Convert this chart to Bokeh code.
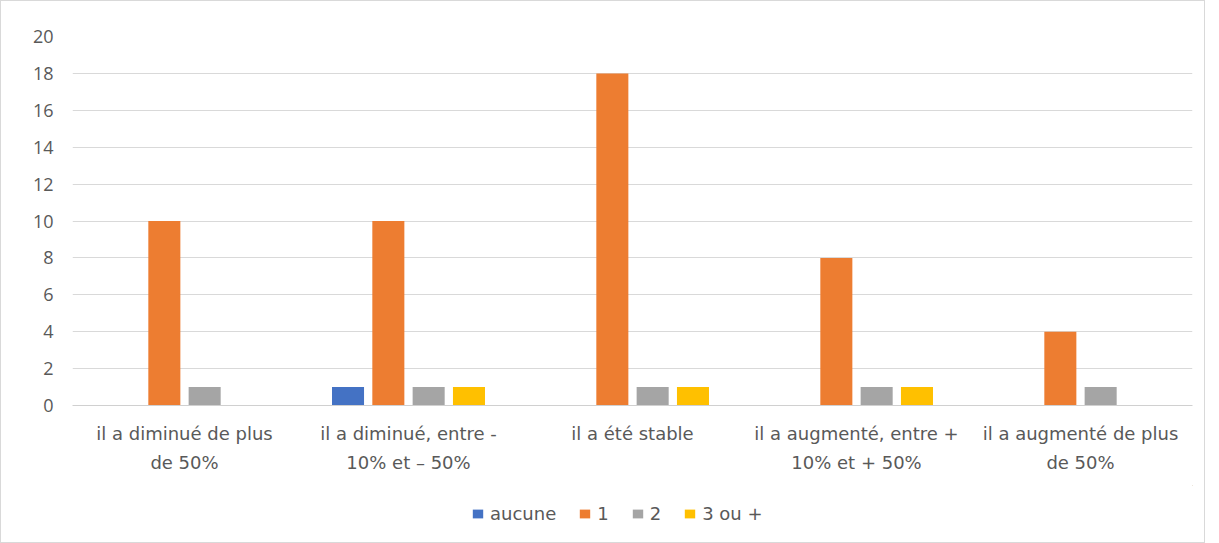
from bokeh.plotting import figure
from bokeh.models import Legend, LegendItem, Range1d, SingleIntervalTicker, ColumnDataSource
from bokeh.layouts import column
from bokeh.transform import dodge
from bokeh.embed import file_html
from bokeh.resources import INLINE

categories = [
    "il a diminué de plus\nde 50%",
    "il a diminué, entre -\n10% et – 50%",
    "il a été stable",
    "il a augmenté, entre +\n10% et + 50%",
    "il a augmenté de plus\nde 50%",
]
series_names = ["aucune", "1", "2", "3 ou +"]
aucune = [0, 1, 0, 0, 0]
un = [10, 10, 18, 8, 4]
deux = [1, 1, 1, 1, 1]
trois = [0, 1, 1, 1, 0]
colors = ["#4472C4", "#ED7D31", "#A5A5A5", "#FFC000"]

source = ColumnDataSource(data=dict(cat=categories, s0=aucune, s1=un, s2=deux, s3=trois))

p = figure(x_range=categories, frame_width=1120, frame_height=369, output_backend="svg",
           toolbar_location=None, min_border_left=71, min_border_right=12,
           min_border_top=35, min_border_bottom=80)
p.y_range = Range1d(0, 20)
p.outline_line_color = None

offsets = [-0.27, -0.09, 0.09, 0.27]
for i, col in enumerate(colors):
    p.vbar(x=dodge("cat", offsets[i], range=p.x_range), top="s%d" % i, width=0.143,
           source=source, fill_color=col, line_color=None)

p.xgrid.grid_line_color = None
p.ygrid.grid_line_color = "#d9d9d9"
p.ygrid.ticker = SingleIntervalTicker(interval=2)
p.yaxis.ticker = SingleIntervalTicker(interval=2)
p.yaxis.axis_line_color = None
p.yaxis.major_tick_line_color = None
p.yaxis.minor_tick_line_color = None
p.yaxis.major_label_text_font = "Open Sans"
p.yaxis.major_label_text_font_size = "18px"
p.yaxis.major_label_text_color = "#595959"
p.yaxis.major_label_standoff = 13

p.xaxis.axis_line_color = "#d0d0d0"
p.xaxis.major_tick_line_color = None
p.xaxis.minor_tick_line_color = None
p.xaxis.major_label_text_font = "DejaVu Sans"
p.xaxis.major_label_text_font_size = "18px"
p.xaxis.major_label_text_color = "#595959"
p.xaxis.major_label_text_line_height = 1.4
p.xaxis.major_label_standoff = 11
p.x_range.range_padding = 0

# legend strip
lf = figure(width=1203, height=57, output_backend="svg", toolbar_location=None,
            min_border=0, x_range=Range1d(0, 1), y_range=Range1d(0, 1))
lf.axis.visible = False
lf.grid.visible = False
lf.outline_line_color = None
items = []
for name, col in zip(series_names, colors):
    r = lf.vbar(x=[10], top=[10], bottom=[9], width=0.1, fill_color=col, line_color=None)
    items.append(LegendItem(label=name, renderers=[r]))
legend = Legend(items=items, orientation="horizontal", location=(399, 18),
                label_text_font="DejaVu Sans", label_text_font_size="18px",
                label_text_color="#595959", glyph_width=13, glyph_height=11,
                label_standoff=6, spacing=22, label_width=0,
                border_line_color=None, background_fill_alpha=0,
                padding=0, margin=0)
lf.add_layout(legend, "center")

layout = column(p, lf, spacing=0)
layout.styles = {"border": "1px solid #d9d9d9", "background-color": "white"}

open("out.html", "w").write(file_html(layout, INLINE))
